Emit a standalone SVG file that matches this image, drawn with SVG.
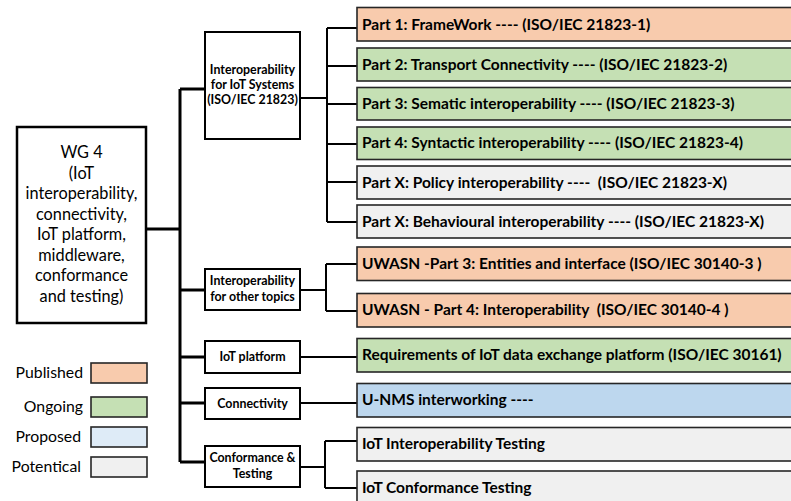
<svg xmlns="http://www.w3.org/2000/svg" width="791" height="501" viewBox="0 0 791 501">
<style>
text{font-family:Lato,"Liberation Sans",sans-serif;fill:#000}
.part{font-weight:bold;font-size:15.5px}
.mid{font-weight:bold;font-size:12.4px;text-anchor:middle}
.wg{font-size:16.3px;text-anchor:middle}
.leg{font-size:15.8px;text-anchor:end}
.pb{stroke:#262626;stroke-width:1.6}
.nb{fill:#fff;stroke:#000;stroke-width:2}
.pub{fill:#F8CBAD}.ong{fill:#C5E0B4}.pro{fill:#BDD7EE}.pot{fill:#F0F0F0}
.conn path{fill:none;stroke:#000}
.thick{stroke-width:3}
.thin{stroke-width:2}
</style>
<g class="conn" id="connectors">
<path class="thick" d="M146,229H180M180,89V462M180,89H205M180,290H205M180,357H205M180,403H205M180,462H205"/>
<path class="thin" d="M300,98H327M327,28V222M327,28H357M327,66H357M327,104H357M327,144H357M327,182H357M327,222H357"/>
<path class="thin" d="M300,290H326M326,264V311M326,264H357M326,311H357"/>
<path class="thin" d="M300,357H357M300,403H357"/>
<path class="thin" d="M300,467H325M325,441V488M325,441H357M325,488H357"/>
</g>
<g id="wg4">
<rect x="17" y="127" width="129" height="196" fill="#fff" stroke="#000" stroke-width="2.5"/>
<text class="wg" x="81.5" y="158">WG 4</text>
<text class="wg" x="81.5" y="178.5">(IoT</text>
<text class="wg" x="81.5" y="199">interoperability,</text>
<text class="wg" x="81.5" y="219.5">connectivity,</text>
<text class="wg" x="81.5" y="240">IoT platform,</text>
<text class="wg" x="81.5" y="260.5">middleware,</text>
<text class="wg" x="81.5" y="281">conformance</text>
<text class="wg" x="81.5" y="301.5">and testing)</text>
</g>
<g id="iot-systems">
<rect class="nb" x="205" y="32" width="95" height="107"/>
<text class="mid" x="252.5" y="74">Interoperability</text>
<text class="mid" x="252.5" y="89">for IoT Systems</text>
<text class="mid" x="252.5" y="104">(ISO/IEC 21823)</text>
</g>
<g id="other-topics">
<rect class="nb" x="205" y="269" width="95" height="41"/>
<text class="mid" x="252.5" y="285">Interoperability</text>
<text class="mid" x="252.5" y="301">for other topics</text>
</g>
<g id="iot-platform">
<rect class="nb" x="205" y="341" width="95" height="32"/>
<text class="mid" x="252.5" y="361">IoT platform</text>
</g>
<g id="connectivity">
<rect class="nb" x="205" y="388" width="95" height="31"/>
<text class="mid" x="252.5" y="407.5">Connectivity</text>
</g>
<g id="conformance">
<rect class="nb" x="205" y="446" width="95" height="41"/>
<text class="mid" x="252.5" y="462">Conformance &amp;</text>
<text class="mid" x="252.5" y="478">Testing</text>
</g>
<g id="part1"><rect class="pb pub" x="357" y="7.5" width="450" height="33.5"/><text class="part" x="362" y="29.5">Part 1: FrameWork ---- (ISO/IEC 21823-1)</text></g>
<g id="part2"><rect class="pb ong" x="357" y="48" width="450" height="33"/><text class="part" x="362" y="69.5">Part 2: Transport Connectivity ---- (ISO/IEC 21823-2)</text></g>
<g id="part3"><rect class="pb ong" x="357" y="87.5" width="450" height="32.5"/><text class="part" x="362" y="108.5">Part 3: Sematic interoperability ---- (ISO/IEC 21823-3)</text></g>
<g id="part4"><rect class="pb ong" x="357" y="127" width="450" height="32.5"/><text class="part" x="362" y="148">Part 4: Syntactic interoperability ---- (ISO/IEC 21823-4)</text></g>
<g id="partx-policy"><rect class="pb pot" x="357" y="166" width="450" height="33"/><text class="part" x="362" y="187.5" xml:space="preserve">Part X: Policy interoperability ----  (ISO/IEC 21823-X)</text></g>
<g id="partx-behav"><rect class="pb pot" x="357" y="205" width="450" height="33"/><text class="part" x="362" y="226.5">Part X: Behavioural interoperability ---- (ISO/IEC 21823-X)</text></g>
<g id="uwasn3"><rect class="pb pub" x="357" y="247" width="450" height="33.5"/><text class="part" x="362" y="268.5">UWASN -Part 3: Entities and interface (ISO/IEC 30140-3 )</text></g>
<g id="uwasn4"><rect class="pb pub" x="357" y="293.5" width="450" height="33.5"/><text class="part" x="362" y="315" xml:space="preserve">UWASN - Part 4: Interoperability  (ISO/IEC 30140-4 )</text></g>
<g id="req"><rect class="pb ong" x="357" y="338.5" width="450" height="33.5"/><text class="part" x="362" y="360">Requirements of IoT data exchange platform (ISO/IEC 30161)</text></g>
<g id="unms"><rect class="pb pro" x="357" y="383.5" width="450" height="33.5"/><text class="part" x="362" y="405">U-NMS interworking ----</text></g>
<g id="iot-interop-test"><rect class="pb pot" x="357" y="427.5" width="450" height="33.5"/><text class="part" x="362" y="449">IoT Interoperability Testing</text></g>
<g id="iot-conf-test"><rect class="pb pot" x="357" y="471" width="450" height="40"/><text class="part" x="362" y="493">IoT Conformance Testing</text></g>
<g id="legend">
<rect class="pb pub" x="91" y="363" width="56" height="20"/>
<text class="leg" x="83" y="378">Published</text>
<rect class="pb ong" x="91" y="397" width="56" height="20"/>
<text class="leg" x="83" y="412">Ongoing</text>
<rect class="pb" x="91" y="427" width="56" height="20" fill="#DEEBF7"/>
<text class="leg" x="81" y="442">Proposed</text>
<rect class="pb pot" x="91" y="457" width="56" height="20"/>
<text class="leg" x="81" y="472">Potentical</text>
</g>
</svg>
